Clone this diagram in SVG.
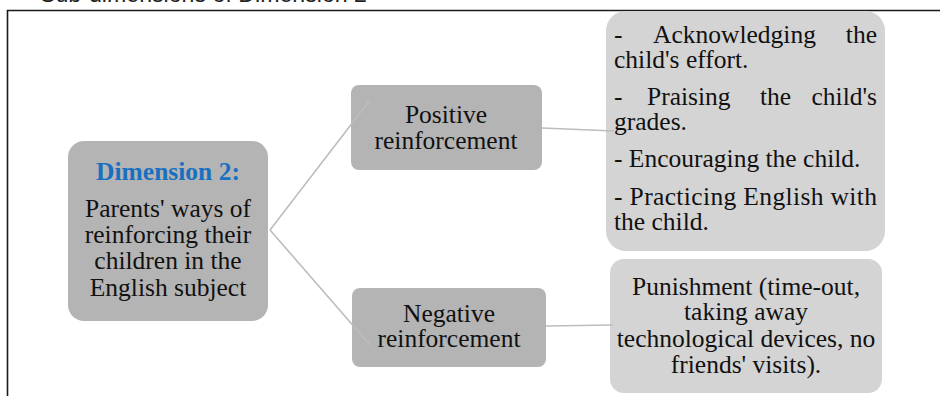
<svg xmlns="http://www.w3.org/2000/svg" width="940" height="396" viewBox="0 0 940 396">
<style>
  .t { font-family: "Liberation Serif", "Times New Roman", serif; font-size: 25.5px; fill: #111; }
  .c { text-anchor: middle; }
  .e { text-anchor: end; }
  .dark { fill: #b4b4b4; }
  .light { fill: #d4d4d4; }
  .conn { stroke: #bdbdbd; stroke-width: 1.6; fill: none; }
  .top { font-family: "Liberation Sans", Arial, sans-serif; font-size: 23px; fill: #222; }
</style>
<rect x="0" y="0" width="940" height="396" fill="#ffffff"/>
<text class="top" x="9" y="2">✓</text>
<text class="top" x="40" y="2" textLength="327" lengthAdjust="spacingAndGlyphs">Sub-dimensions of Dimension 2</text>
<path d="M7.5 396 V10.5 H940" stroke="#1a1a1a" stroke-width="1.6" fill="none"/>

<g id="dimension2">
  <rect class="dark" x="68" y="141" width="200" height="180" rx="16"/>
  <text class="t c" x="168" y="180" style="font-weight:bold;fill:#1a70c0">Dimension 2:</text>
  <text class="t c" x="168" y="217">Parents' ways of</text>
  <text class="t c" x="168" y="243">reinforcing their</text>
  <text class="t c" x="168" y="269">children in the</text>
  <text class="t c" x="168" y="296">English subject</text>
</g>

<g id="positive">
  <rect class="dark" x="351" y="85" width="191" height="85" rx="8"/>
  <text class="t c" x="446" y="123">Positive</text>
  <text class="t c" x="446" y="149">reinforcement</text>
</g>

<g id="negative">
  <rect class="dark" x="352" y="288" width="194" height="79" rx="8"/>
  <text class="t c" x="449" y="322">Negative</text>
  <text class="t c" x="449" y="347">reinforcement</text>
</g>

<g id="positive-details">
  <rect class="light" x="606" y="11" width="279" height="240" rx="20"/>
  <text class="t" x="614" y="43">-</text>
  <text class="t" x="653" y="43">Acknowledging</text>
  <text class="t e" x="877" y="43">the</text>
  <text class="t" x="614" y="68">child's effort.</text>
  <text class="t" x="614" y="105">-</text>
  <text class="t" x="647" y="105">Praising</text>
  <text class="t" x="760" y="105">the</text>
  <text class="t e" x="877" y="105">child's</text>
  <text class="t" x="614" y="130">grades.</text>
  <text class="t" x="614" y="167">- Encouraging the child.</text>
  <text class="t" x="614" y="205" textLength="263" lengthAdjust="spacing">- Practicing English with</text>
  <text class="t" x="614" y="230">the child.</text>
</g>

<g id="negative-details">
  <rect class="light" x="610" y="259" width="272" height="134" rx="14"/>
  <text class="t c" x="746" y="295">Punishment (time-out,</text>
  <text class="t c" x="746" y="320">taking away</text>
  <text class="t c" x="746" y="347">technological devices, no</text>
  <text class="t c" x="746" y="373">friends' visits).</text>
</g>

<g id="connectors">
  <path class="conn" d="M270 230 L370 100"/>
  <path class="conn" d="M270 230 L370 345"/>
  <path class="conn" d="M542 128 L614 131"/>
  <path class="conn" d="M546 326 L613 325"/>
</g>
</svg>
